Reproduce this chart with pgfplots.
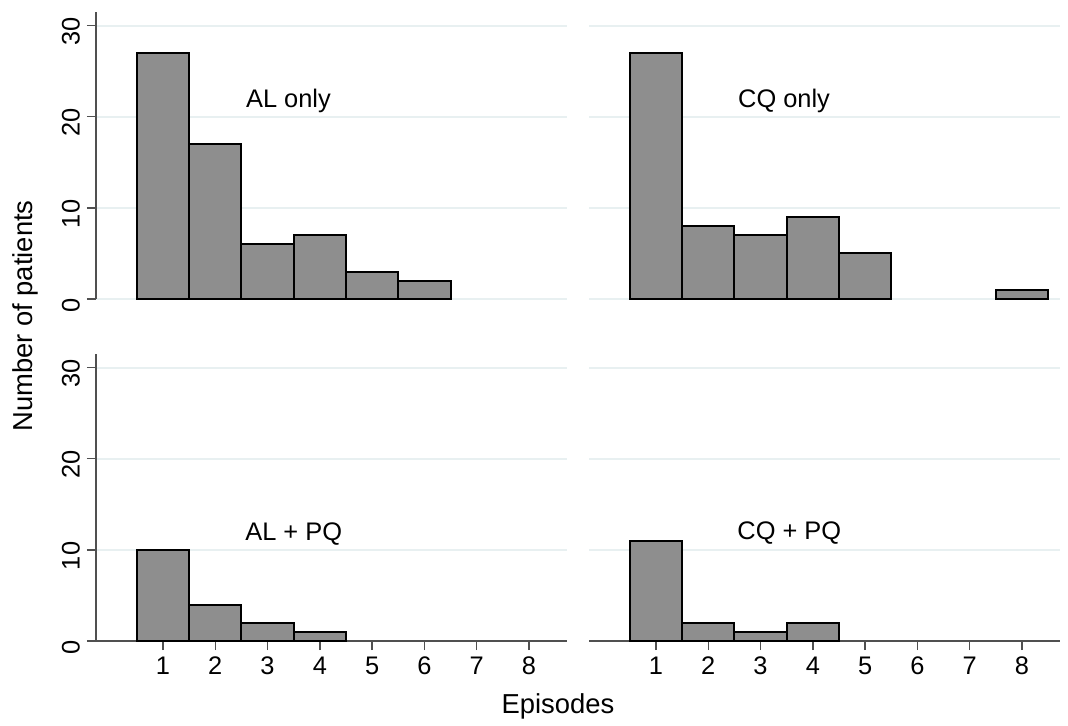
\documentclass[border=0pt]{standalone}
\usepackage{fontspec}
\setmainfont{Liberation Sans}
\usepackage{pgfplots}
\pgfplotsset{compat=1.18}
\definecolor{barfill}{RGB}{142,142,142}
\definecolor{gridc}{RGB}{232,240,241}
\definecolor{axc}{RGB}{80,80,80}

\tikzset{ttl/.style={font=\fontsize{12.7bp}{15bp}\selectfont},
         lbl/.style={font=\fontsize{13.7bp}{16bp}\selectfont}}
\pgfplotsset{
  panel/.style={
    scale only axis, width=235.35bp, height=143.5bp,
    xmin=-0.28, xmax=8.72, ymin=0, ymax=31.5,
    axis x line*=bottom, axis y line*=left,
    axis line style={axc, line width=0.7bp},
    ytick={0,10,20,30}, xtick={1,...,8},
    ymajorgrids, major grid style={gridc, line width=1bp},
    tick align=outside,
    tick style={axc, line width=0.7bp},
    major tick length=4.5bp,
    /pgf/number format/assume math mode=true,
    tick label style={font=\fontsize{12.7bp}{15bp}\selectfont},
    yticklabel style={rotate=90, anchor=south, xshift=-3bp},
    clip=false,
  },
  toprow/.style={x axis line style={draw=none}, xtick=\empty},
  rightcol/.style={y axis line style={draw=none}, yticklabels={}, y tick style={draw=none}},
  bars/.style={ybar, bar width=1, bar shift=0pt, fill=barfill, draw=black, line width=1bp},
}

\begin{document}
\begin{tikzpicture}
\path (0,0) rectangle (534bp,358.5bp);

% AL only
\begin{axis}[panel, toprow, at={(48bp,209bp)}, anchor=south west]
  \addplot[bars] coordinates {(1,27) (2,17) (3,6) (4,7) (5,3) (6,2)};
  \node[ttl] at (axis cs:3.4,21.7) {AL only};
\end{axis}

% CQ only
\begin{axis}[panel, toprow, rightcol, at={(294.5bp,209bp)}, anchor=south west]
  \addplot[bars] coordinates {(1,27) (2,8) (3,7) (4,9) (5,5) (8,1)};
  \node[ttl] at (axis cs:3.45,21.7) {CQ only};
\end{axis}

% AL + PQ
\begin{axis}[panel, at={(48bp,38bp)}, anchor=south west]
  \addplot[bars] coordinates {(1,10) (2,4) (3,2) (4,1)};
  \node[ttl] at (axis cs:3.5,11.7) {AL + PQ};
\end{axis}

% CQ + PQ
\begin{axis}[panel, rightcol, at={(294.5bp,38bp)}, anchor=south west]
  \addplot[bars] coordinates {(1,11) (2,2) (3,1) (4,2)};
  \node[ttl] at (axis cs:3.55,11.9) {CQ + PQ};
\end{axis}

\node[lbl, rotate=90] at (12.5bp,200.5bp) {Number of patients};
\node[lbl] at (279bp,5.5bp) {Episodes};
\end{tikzpicture}
\end{document}
